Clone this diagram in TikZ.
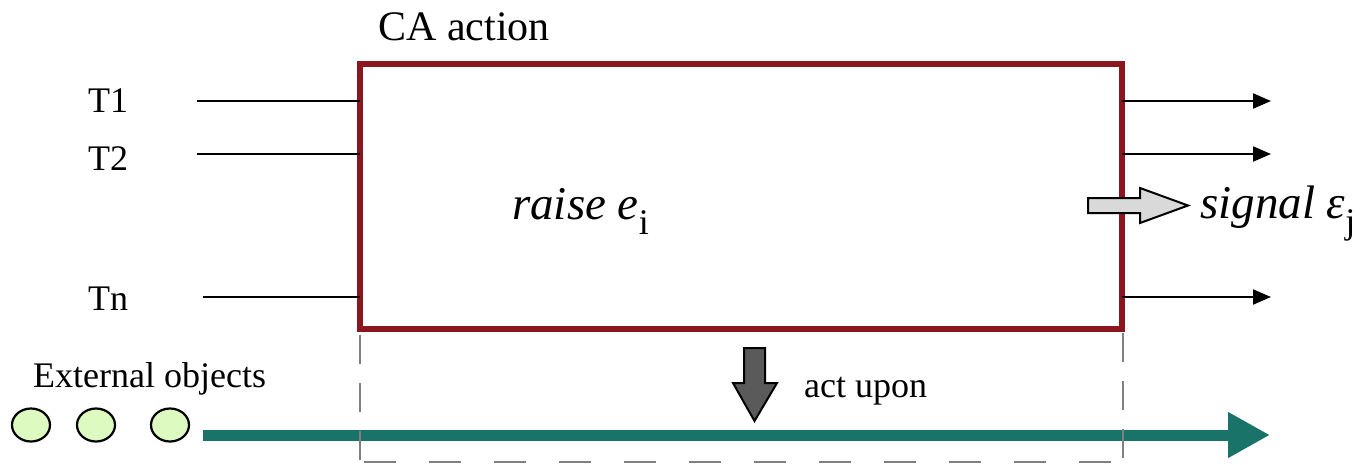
\documentclass[tikz,border=0pt]{standalone}
\usepackage{fontspec}
\setmainfont{Liberation Serif}
\usetikzlibrary{arrows.meta}
\definecolor{boxred}{RGB}{140,22,32}
\definecolor{teal2}{RGB}{26,115,105}
\definecolor{objgreen}{RGB}{221,250,192}
\definecolor{lgray}{RGB}{217,217,217}
\definecolor{dgray}{RGB}{90,90,90}
\definecolor{dashgray}{RGB}{128,128,128}
\tikzset{
  lbl/.style={inner sep=0pt, anchor=base west, font=\fontsize{36}{40}\selectfont},
  inline/.style={line width=2pt},
  outarrow/.style={line width=2pt, -{Triangle[length=18pt,width=15pt]}},
  obj/.style={line width=2.2pt, fill=objgreen},
  vdash/.style={dashgray, line width=2.2pt, dash pattern=on 29pt off 19pt},
  hdash/.style={dashgray, line width=2.2pt, dash pattern=on 32pt off 33pt},
}
\begin{document}
\begin{tikzpicture}[x=1pt,y=-1pt]
\useasboundingbox (0,0) rectangle (1364,464);
% main box
\draw[boxred, line width=6pt] (360,64) rectangle (1122,329);
\node[lbl, font=\fontsize{42}{46}\selectfont] (ca) at (378,40) {CA action};
% inputs
\coordinate (i1) at (197,101); \coordinate (i2) at (197,154); \coordinate (i3) at (203,297);
\coordinate (b1) at (360,101); \coordinate (b2) at (360,154); \coordinate (b3) at (360,297);
\draw[inline] (i1) -- (b1);
\draw[inline] (i2) -- (b2);
\draw[inline] (i3) -- (b3);
\node[lbl] (t1) at (88,112) {T1};
\node[lbl] (t2) at (88,170) {T2};
\node[lbl] (tn) at (88,310) {Tn};
% outputs
\coordinate (o1) at (1122,101); \coordinate (o2) at (1122,154); \coordinate (o3) at (1122,297);
\coordinate (e1) at (1271,101); \coordinate (e2) at (1271,154); \coordinate (e3) at (1271,297);
\draw[outarrow] (o1) -- (e1);
\draw[outarrow] (o2) -- (e2);
\draw[outarrow] (o3) -- (e3);
% raise
\node[lbl, font=\fontsize{47}{50}\selectfont\itshape] (raise) at (512,219) {raise e\textsubscript{\upshape\fontsize{36}{40}\selectfont i}};
% signal block arrow
\draw[line width=2pt, fill=lgray, line join=miter] (1088,198) -- (1140,198) -- (1140,188) -- (1188,205.5) -- (1140,223) -- (1140,213) -- (1088,213) -- cycle;
\node[lbl, font=\fontsize{47}{50}\selectfont\itshape] (sig) at (1200,218) {signal ε\textsubscript{\upshape\fontsize{36}{40}\selectfont j}};
% act upon block arrow
\draw[line width=2pt, fill=dgray, line join=miter] (744,348) -- (765,348) -- (765,383) -- (777,383) -- (754.5,421) -- (733,383) -- (744,383) -- cycle;
\node[lbl] (act) at (804,397) {act upon};
% external objects
\node[lbl] (ext) at (33,387) {External objects};
\draw[obj] (31,425) ellipse [x radius=19, y radius=16.5];
\draw[obj] (96,425) ellipse [x radius=19, y radius=16.5];
\draw[obj] (170,425) ellipse [x radius=19, y radius=16.5];
\coordinate (ts) at (203,435); \coordinate (te) at (1270,435);
\draw[teal2, line width=11pt, -{Triangle[length=42pt,width=43pt]}] (ts) -- (te);
% dashed region
\draw[vdash] (360,335) -- (360,461);
\draw[vdash] (1123,333) -- (1123,459);
\draw[hdash] (364,462) -- (1120,462);
\end{tikzpicture}
\end{document}
